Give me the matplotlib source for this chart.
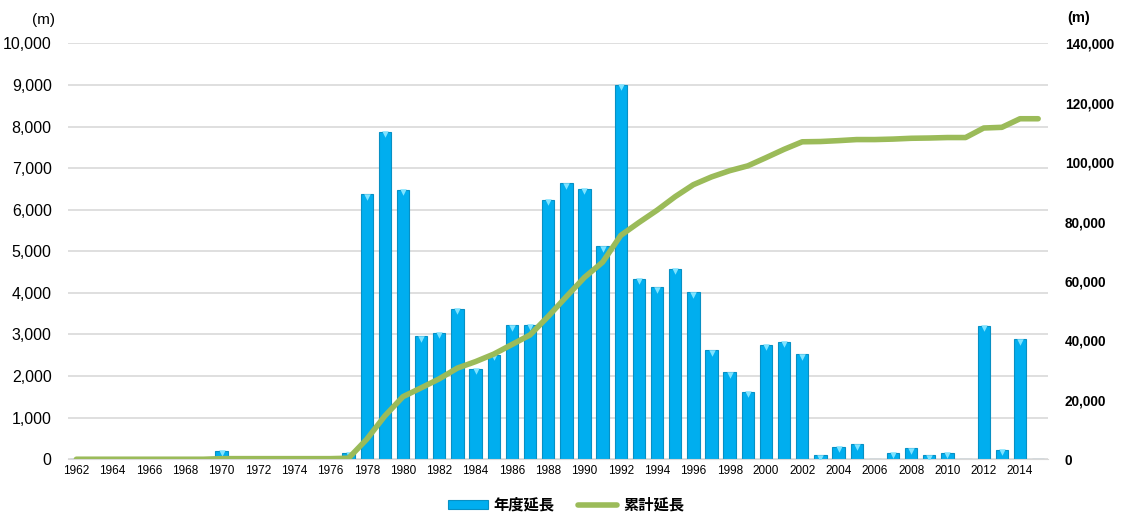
import matplotlib
matplotlib.use("Agg")
import matplotlib.pyplot as plt
from matplotlib.ticker import FuncFormatter

years = list(range(1962, 2016))
annual = [0, 0, 0, 0, 0, 0, 0, 0,          # 1962-1969
          200, 0, 0, 0, 0, 0, 0,           # 1970-1976
          150, 6370, 7870, 6480, 2960, 3045, 3615, 2180, 2515, 3220,   # 1977-1986
          3235, 6240, 6635, 6505, 5120, 9010, 4340, 4140, 4575, 4015,  # 1987-1996
          2620, 2090, 1625, 2755, 2820, 2525, 95, 300, 360, 0,         # 1997-2006
          160, 265, 95, 160, 0, 3210, 230, 2890, 0]                    # 2007-2015
cumulative = [0, 0, 0, 0, 0, 0, 0, 0,
              200, 200, 200, 200, 200, 200, 200,
              350, 6720, 14590, 21070, 24030, 27080, 30690, 32870, 35390, 38610,
              41840, 48080, 54720, 61220, 66340, 75350, 79690, 83830, 88410, 92420,
              95040, 97130, 98760, 101510, 104330, 106860, 106950, 107250, 107610, 107610,
              107770, 108040, 108130, 108290, 108290, 111500, 111730, 114620, 114620]
label_annual = "年度延長"
label_cum = "累計延長"

plt.rcParams['font.family'] = ['Liberation Sans', 'Noto Sans CJK JP', 'DejaVu Sans']

fig = plt.figure(figsize=(11.21, 5.16), dpi=100)
ax = fig.add_axes([0.061, 0.110, 0.874, 0.806])
ax2 = ax.twinx()

ax.bar(years, annual, width=0.68, color='#00AEEF', edgecolor='#0790C4',
       linewidth=0.8, label=label_annual, zorder=2)
# light caps on top of the bars (bevel look)
cap_x = [y for y, v in zip(years, annual) if v > 0]
cap_y = [v for v in annual if v > 0]
ax.scatter(cap_x, [v - 60 for v in cap_y], marker='v', s=22, color='#7FE3FF',
           zorder=3, linewidths=0)

ax2.plot(years, cumulative, color='#9BBB59', linewidth=4, label=label_cum,
         solid_capstyle='round')

ax.set_xlim(1961.56, 2015.55)
ax.set_ylim(0, 10000)
ax2.set_ylim(0, 140000)
ax.set_yticks(range(0, 10001, 1000))
ax2.set_yticks(range(0, 140001, 20000))
ax.set_xticks(range(1962, 2015, 2))

fmt = FuncFormatter(lambda v, p: f"{int(v):,}")
ax.yaxis.set_major_formatter(fmt)
ax2.yaxis.set_major_formatter(fmt)

ax.grid(axis='y', color='#D9D9D9', linewidth=1.2, zorder=0)
ax.set_axisbelow(True)
for a in (ax, ax2):
    for s in a.spines.values():
        s.set_visible(False)
    a.tick_params(length=0)
ax.spines['bottom'].set_visible(True)
ax.spines['bottom'].set_color('#D9D9D9')

ax.tick_params(axis='y', labelsize=11.5, pad=12)
ax.tick_params(axis='x', labelsize=8.5, pad=4)
ax2.tick_params(axis='y', labelsize=9.8, pad=12)
for t in ax2.get_yticklabels():
    t.set_fontweight('bold')

fig.text(0.039, 0.962, "(m)", fontsize=11, ha='center', va='center')
fig.text(0.962, 0.965, "(m)", fontsize=10.5, ha='center', va='center', fontweight='bold')

h1, l1 = ax.get_legend_handles_labels()
h2, l2 = ax2.get_legend_handles_labels()
fig.legend(h1 + h2, l1 + l2, loc='center', bbox_to_anchor=(0.505, 0.022), ncol=2,
           frameon=False, prop={'family': ['Noto Sans CJK JP'], 'size': 11, 'weight': 'bold'},
           handlelength=2.6, handleheight=0.5, columnspacing=1.5, handletextpad=0.4)

fig.savefig("out.png", dpi=100)
